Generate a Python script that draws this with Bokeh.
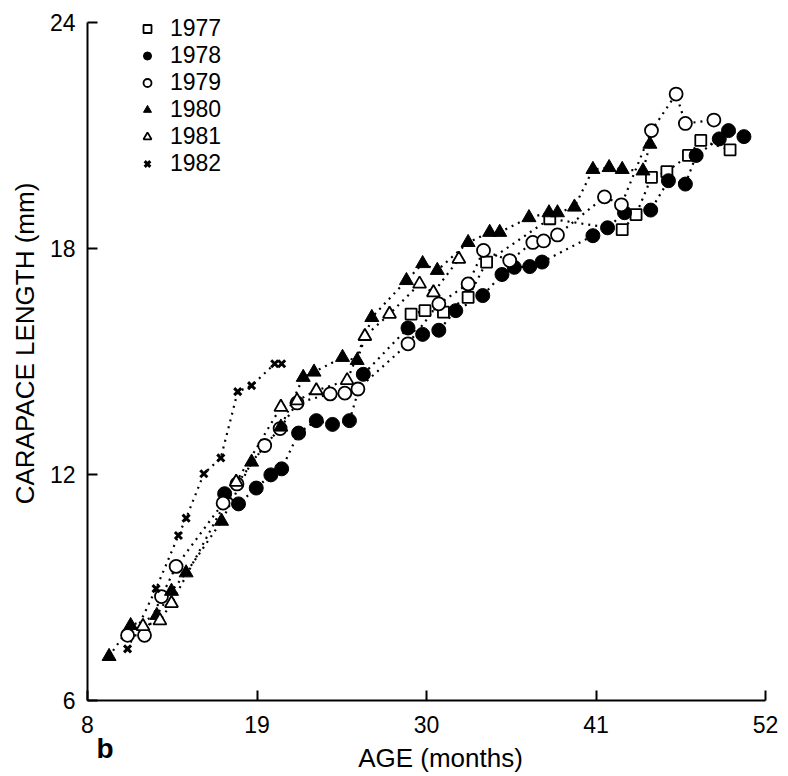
import math
from bokeh.plotting import figure
from bokeh.models import FixedTicker, Legend, LegendItem, Label, Range1d
from bokeh.embed import file_html
from bokeh.resources import INLINE

# ---- data (age in months, carapace length in mm) ----
age77 = [29.0, 29.9, 31.1, 32.7, 33.9, 38.0, 42.7, 43.6, 44.6, 45.6, 47.0, 47.8, 49.7]
len77 = [16.26, 16.35, 16.31, 16.70, 17.64, 18.79, 18.50, 18.90, 19.89, 20.04, 20.47, 20.87, 20.62]

age78 = [16.9, 17.8, 18.95, 19.9, 20.6, 21.7, 22.85, 23.9, 25.0, 25.9, 28.8, 29.75, 30.8, 31.9,
         33.65, 34.9, 35.7, 36.7, 37.5, 40.8, 41.75, 42.85, 44.55, 45.7, 46.8, 47.5, 49.0, 49.6, 50.6]
len78 = [11.49, 11.22, 11.64, 11.99, 12.15, 13.10, 13.43, 13.33, 13.43, 14.66, 15.89, 15.72, 15.83, 16.35,
         16.75, 17.31, 17.50, 17.52, 17.64, 18.34, 18.55, 18.95, 19.02, 19.80, 19.71, 20.47, 20.91, 21.13, 20.97]

age79 = [10.6, 11.7, 12.8, 13.75, 16.8, 17.7, 19.5, 20.5, 21.6, 23.75, 24.7, 25.55, 28.8, 30.8,
         32.7, 33.7, 35.4, 36.9, 37.6, 38.5, 41.55, 42.65, 44.6, 46.2, 46.8, 48.65]
len79 = [7.73, 7.73, 8.76, 9.56, 11.24, 11.75, 12.77, 13.22, 13.90, 14.14, 14.16, 14.27, 15.47, 16.53,
         17.06, 17.95, 17.68, 18.16, 18.20, 18.36, 19.37, 19.16, 21.13, 22.10, 21.32, 21.41]

age80 = [9.4, 10.8, 12.5, 13.45, 14.4, 16.7, 18.65, 20.55, 22.0, 22.7, 24.55, 25.5, 26.45, 28.7,
         29.75, 30.7, 32.7, 34.1, 34.75, 36.65, 37.95, 38.5, 39.6, 40.8, 41.85, 42.7, 44.05, 44.5]
len80 = [7.17, 7.99, 8.26, 8.90, 9.39, 10.76, 12.33, 13.26, 14.58, 14.72, 15.11, 15.03, 16.17, 17.15,
         17.60, 17.42, 18.16, 18.43, 18.43, 18.82, 18.95, 18.95, 19.10, 20.10, 20.15, 20.10, 20.06, 20.77]

age81 = [11.6, 12.7, 13.45, 17.65, 20.55, 21.6, 22.85, 24.85, 26.0, 27.6, 29.55, 30.45, 32.1]
len81 = [7.97, 8.12, 8.58, 11.80, 13.79, 13.96, 14.23, 14.50, 15.67, 16.26, 17.06, 16.83, 17.72]

age82 = [10.6, 12.45, 13.9, 14.4, 15.55, 16.65, 17.75, 18.65, 20.15, 20.6]
len82 = [7.37, 8.97, 10.38, 10.84, 12.02, 12.44, 14.20, 14.36, 14.94, 14.94]

years = ["1977", "1978", "1979", "1980", "1981", "1982"]
x_ticks = [8, 19, 30, 41, 52]
y_ticks = [6, 12, 18, 24]
x_lim = (8, 52)
y_lim = (6, 24)
x_title = "AGE (months)"
y_title = "CARAPACE LENGTH (mm)"
panel_tag = "b"

FONT = "Liberation Sans"

# The frame covers the whole canvas; axes are drawn at fixed data locations
# so that the legend and outside texts are not clipped.
W, H = 788, 776
AX_L_PX, AX_R_PX = 87, 765
AX_T_PX, AX_B_PX = 22, 700
ppx = (AX_R_PX - AX_L_PX) / (x_lim[1] - x_lim[0])
ppy = (AX_B_PX - AX_T_PX) / (y_lim[1] - y_lim[0])
x_range = Range1d(x_lim[0] - AX_L_PX / ppx, x_lim[1] + (W - AX_R_PX) / ppx)
y_range = Range1d(y_lim[0] - (H - AX_B_PX) / ppy, y_lim[1] + AX_T_PX / ppy)

p = figure(width=W, height=H, output_backend="svg", toolbar_location=None,
           x_range=x_range, y_range=y_range,
           min_border_left=0, min_border_right=0, min_border_top=0, min_border_bottom=0)
p.background_fill_color = "white"
p.border_fill_color = "white"
p.outline_line_color = None
p.grid.grid_line_color = None

p.xaxis.fixed_location = y_lim[0]
p.yaxis.fixed_location = x_lim[0]
p.xaxis.bounds = x_lim
p.yaxis.bounds = y_lim

for ax in (p.xaxis[0], p.yaxis[0]):
    ax.axis_line_width = 2
    ax.axis_line_color = "black"
    ax.major_tick_line_width = 2
    ax.major_tick_line_color = "black"
    ax.major_tick_in = 10
    ax.major_tick_out = 0
    ax.minor_tick_line_color = None
    ax.major_label_text_font = FONT
    ax.major_label_text_font_size = "23px"
    ax.major_label_text_color = "black"

p.xaxis.ticker = FixedTicker(ticks=x_ticks)
p.yaxis.ticker = FixedTicker(ticks=y_ticks)
p.xaxis.major_label_standoff = 15
p.yaxis.major_label_standoff = 12

series = [
    (age77, len77, "square", 11, "white", 1.8),
    (age78, len78, "circle", 14, "black", 1.0),
    (age79, len79, "circle", 13, "white", 1.8),
    (age80, len80, "triangle", 14, "black", 1.0),
    (age81, len81, "triangle", 13, "white", 1.8),
    (age82, len82, "x", 10, None, 3.0),
]

# dotted connecting lines first
for xs, ys, *_ in series:
    p.line(xs, ys, line_color="black", line_width=2.2, line_dash="2 5")

items = []
for (xs, ys, marker, size, fill, lw), yr in zip(series, years):
    r = p.scatter(xs, ys, marker=marker, size=size, line_color="black", line_width=lw,
                  fill_color=fill if fill else "black")
    items.append(LegendItem(label=yr, renderers=[r]))

leg_top = 14.5
leg_h = 6 * 27
legend = Legend(items=items, location=(137, H - (leg_top + leg_h)), orientation="vertical",
                border_line_color=None, background_fill_alpha=0, padding=0, spacing=0,
                margin=0, glyph_width=20, glyph_height=27, label_height=27,
                label_standoff=13, label_text_font=FONT, label_text_font_size="23px",
                label_text_color="black")
p.add_layout(legend)

# axis titles and panel tag
p.add_layout(Label(x=440, y=H - 757, x_units="screen", y_units="screen", text=x_title,
                   text_font=FONT, text_font_size="26px", text_align="center",
                   text_baseline="middle", text_color="black"))
p.add_layout(Label(x=24, y=H - 343, x_units="screen", y_units="screen", text=y_title,
                   angle=math.pi / 2, text_font=FONT, text_font_size="26px",
                   text_align="center", text_baseline="middle", text_color="black"))
p.add_layout(Label(x=96, y=H - 748, x_units="screen", y_units="screen", text=panel_tag,
                   text_font=FONT, text_font_style="bold", text_font_size="28px",
                   text_baseline="middle", text_color="black"))

open("out.html", "w").write(file_html(p, INLINE))
